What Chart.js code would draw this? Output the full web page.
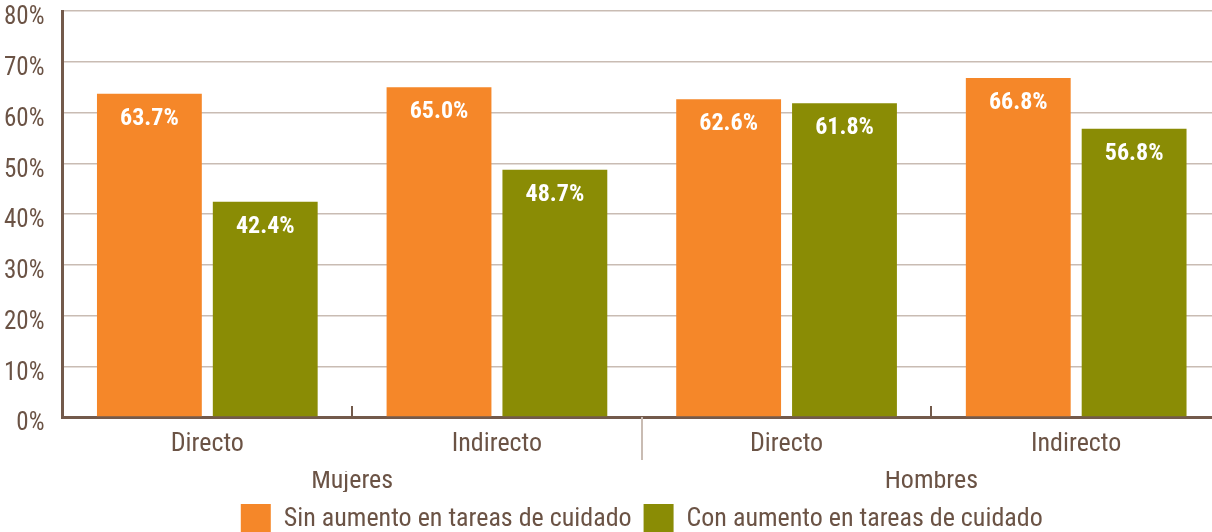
<!DOCTYPE html>
<html>
<head>
<meta charset="utf-8">
<script src="https://cdn.jsdelivr.net/npm/chart.js@4"></script>
<style>
  html, body { margin: 0; padding: 0; background: #fff; overflow: hidden; }
  #wrap { width: 1235px; height: 566px; margin-top: -22px; margin-left: -14px; }
</style>
</head>
<body>
<div id="wrap"><canvas id="chart"></canvas></div>
<script>
// Data
const categories = ['Directo', 'Indirecto', 'Directo', 'Indirecto'];
const groups = ['Mujeres', 'Hombres'];
const seriesNames = ['Sin aumento en tareas de cuidado', 'Con aumento en tareas de cuidado'];
const sinAumento = [63.7, 65.0, 62.6, 66.8];
const conAumento = [42.4, 48.7, 61.8, 56.8];
const yTicks = [0, 10, 20, 30, 40, 50, 60, 70, 80];

const FONT = "'Roboto Condensed', 'Liberation Sans Narrow', Roboto, sans-serif";
const TEXT = '#6b5345';
const AXIS = '#735a4b';
const GRID = '#c9bcb3';
const ORANGE = '#f58729';
const GREEN = '#8a8c05';

// white value labels inside the top of each bar
const valueLabels = {
  id: 'valueLabels',
  afterDatasetsDraw(chart) {
    const ctx = chart.ctx;
    ctx.save();
    ctx.font = 'bold 24px ' + FONT;
    ctx.fillStyle = '#fff';
    ctx.textAlign = 'center';
    ctx.textBaseline = 'middle';
    chart.data.datasets.forEach((ds, i) => {
      chart.getDatasetMeta(i).data.forEach((bar, j) => {
        ctx.fillText(ds.data[j].toFixed(1) + '%', bar.x, bar.y + 25);
      });
    });
    ctx.restore();
  }
};

// tick marks between categories and the group separator
const groupTicks = {
  id: 'groupTicks',
  afterDraw(chart) {
    const ctx = chart.ctx;
    const x = chart.scales.x;
    const bottom = chart.chartArea.bottom;
    ctx.save();
    ctx.lineWidth = 2;
    [0.5, 2.5].forEach(v => {
      const px = Math.round(x.getPixelForValue(v));
      ctx.strokeStyle = AXIS;
      ctx.beginPath();
      ctx.moveTo(px, bottom - 11);
      ctx.lineTo(px, bottom);
      ctx.stroke();
    });
    const mid = Math.round(x.getPixelForValue(1.5));
    ctx.strokeStyle = GRID;
    ctx.beginPath();
    ctx.moveTo(mid, bottom);
    ctx.lineTo(mid, bottom + 43);
    ctx.stroke();
    ctx.restore();
  }
};

new Chart(document.getElementById('chart'), {
  type: 'bar',
  data: {
    labels: categories,
    datasets: [
      { label: seriesNames[0], data: sinAumento, backgroundColor: ORANGE },
      { label: seriesNames[1], data: conAumento, backgroundColor: GREEN }
    ]
  },
  options: {
    responsive: true,
    maintainAspectRatio: false,
    animation: false,
    categoryPercentage: 0.8,
    barPercentage: 0.905,
    layout: { padding: 0 },
    plugins: {
      tooltip: { enabled: false },
      legend: {
        position: 'bottom',
        fullSize: false,
        labels: {
          boxWidth: 30,
          boxHeight: 30,
          padding: 12,
          color: TEXT,
          font: { family: FONT, size: 26 }
        }
      }
    },
    scales: {
      x: {
        grid: { display: false, drawTicks: false },
        border: { color: AXIS, width: 3 },
        ticks: { color: TEXT, font: { family: FONT, size: 26, lineHeight: '20px' }, padding: 17 }
      },
      x2: {
        type: 'category',
        labels: groups,
        position: 'bottom',
        offset: true,
        weight: 1,
        grid: { display: false, drawTicks: false },
        border: { display: false },
        ticks: { color: TEXT, font: { family: FONT, size: 26, lineHeight: '21px' }, padding: 0 }
      },
      y: {
        min: 0,
        max: 80,
        afterBuildTicks(scale) { scale.ticks = yTicks.map(v => ({ value: v })); },
        grid: { color: GRID, lineWidth: 1.5, drawTicks: false },
        border: { color: AXIS, width: 3 },
        ticks: {
          color: TEXT,
          font: { family: FONT, size: 25 },
          padding: 18,
          labelOffset: 7,
          callback: v => v + '%'
        }
      }
    }
  },
  plugins: [valueLabels, groupTicks]
});
</script>
</body>
</html>
